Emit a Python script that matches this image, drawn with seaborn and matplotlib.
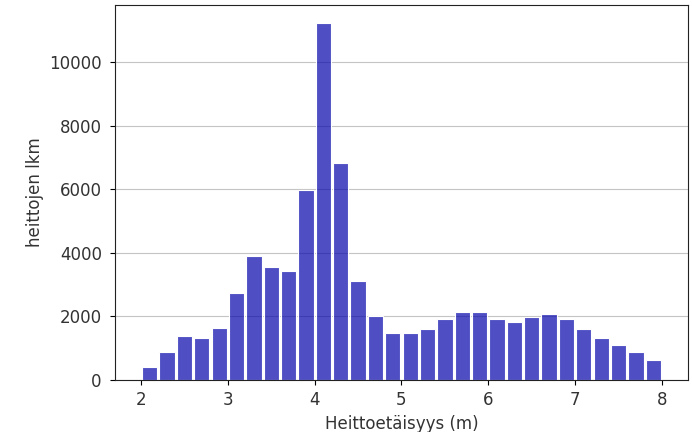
import numpy as np
import pandas as pd
import matplotlib
matplotlib.use('Agg')
import matplotlib.pyplot as plt
import seaborn as sns

# throw distances binned in 0.2 m steps from 2 m to 8 m
bin_centers = [2.1, 2.3, 2.5, 2.7, 2.9, 3.1, 3.3, 3.5, 3.7, 3.9,
               4.1, 4.3, 4.5, 4.7, 4.9, 5.1, 5.3, 5.5, 5.7, 5.9,
               6.1, 6.3, 6.5, 6.7, 6.9, 7.1, 7.3, 7.5, 7.7, 7.9]
counts = [400, 895, 1370, 1315, 1645, 2735, 3915, 3545, 3430, 5990,
          11240, 6840, 3105, 2010, 1480, 1480, 1600, 1915, 2135, 2135,
          1915, 1810, 1980, 2075, 1915, 1600, 1315, 1105, 885, 620]

df = pd.DataFrame({'distance': bin_centers, 'count': counts})

plt.rcParams['font.size'] = 12
plt.rcParams['text.color'] = '#333333'
plt.rcParams['axes.labelcolor'] = '#333333'
plt.rcParams['xtick.labelcolor'] = '#333333'
plt.rcParams['ytick.labelcolor'] = '#333333'
plt.rcParams['axes.edgecolor'] = '#222222'
plt.rcParams['xtick.major.pad'] = 4.5
plt.rcParams['ytick.major.pad'] = 6

fig = plt.figure(figsize=(6.92, 4.32), dpi=100)
ax = fig.add_axes([115 / 692, 1 - 380 / 432, (688 - 115) / 692, (380 - 5) / 432])

sns.histplot(data=df, x='distance', weights='count', binwidth=0.2, binrange=(2, 8),
             shrink=0.88, color='#0504aa', alpha=0.7, edgecolor='white',
             linewidth=0.8, ax=ax)

ax.grid(axis='y', alpha=0.75)
ax.set_axisbelow(True)
ax.set_xlabel('Heittoetäisyys (m)')
ax.set_ylabel('heittojen lkm')
ax.set_xlim(1.7, 8.3)
ax.set_ylim(0, 11800)

fig.savefig('out.png', dpi=100)
